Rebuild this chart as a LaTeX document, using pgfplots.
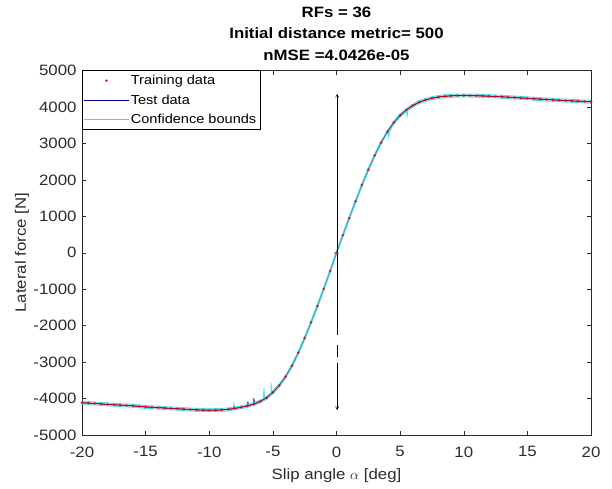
\documentclass[border=0pt]{standalone}
\usepackage{pgfplots}
\pgfplotsset{compat=1.18}
\usepackage{pgfplotstable}
\usepackage{fontspec}
\setmainfont{Liberation Sans}[FakeStretch=1.12]
\usetikzlibrary{arrows.meta}
\definecolor{mnavy}{rgb}{0.0,0.0,0.6}
\definecolor{mcyan}{rgb}{0.2,0.88,0.95}
\definecolor{axgray}{rgb}{0.17,0.17,0.17}

\pgfplotstableread{
x y
-20 -4115
-19.5 -4124
-19 -4135
-18.5 -4148
-18 -4160
-17.5 -4170
-17 -4180
-16.5 -4190
-16 -4200
-15.5 -4215
-15 -4230
-14.5 -4240
-14 -4250
-13.5 -4260
-13 -4270
-12.5 -4280
-12 -4290
-11.5 -4300
-11 -4310
-10.5 -4316
-10 -4320
-9.5 -4318
-9 -4310
-8.5 -4295
-8 -4272
-7.5 -4240
-7 -4200
-6.5 -4150
-6 -4080
-5.5 -3980
-5 -3830
-4.5 -3640
-4 -3400
-3.5 -3100
-3 -2740
-2.5 -2340
-2 -1910
-1.5 -1460
-1 -990
-0.5 -500
0 0
0.5 480
1 950
1.5 1410
2 1860
2.5 2280
3 2670
3.5 3020
4 3320
4.5 3570
5 3770
5.5 3920
6 4040
6.5 4130
7 4195
7.5 4240
8 4272
8.5 4292
9 4305
9.5 4312
10 4315
10.5 4313
11 4308
11.5 4302
12 4295
12.5 4287
13 4278
13.5 4268
14 4258
14.5 4248
15 4237
15.5 4226
16 4215
16.5 4204
17 4194
17.5 4184
18 4175
18.5 4166
19 4158
19.5 4150
20 4142
}\tbltraining

\pgfplotstableread{
x y
-20 -4115
-19 -4135
-18 -4160
-17 -4180
-16 -4200
-15 -4230
-14 -4250
-13 -4270
-12 -4290
-11 -4310
-10.5 -4316
-10 -4320
-9.5 -4318
-9 -4310
-8.5 -4295
-8.1 -4276
-8.05 -4225
-8.0 -4272
-7.5 -4240
-7 -4200
-6.98 -4198
-6.96 -4088
-6.93 -4196
-6.5 -4150
-6.49 -3995
-6.46 -4146
-6 -4080
-5.5 -3980
-5 -3830
-4.5 -3640
-4 -3400
-3.5 -3100
-3 -2740
-2.5 -2340
-2 -1910
-1.5 -1460
-1 -990
-0.5 -500
0 0
0.5 480
1 950
1.5 1410
2 1860
2.5 2280
3 2670
3.5 3020
4 3320
4.5 3570
5 3770
5.5 3920
6 4040
6.5 4130
7 4195
7.5 4240
8 4272
8.5 4292
9 4305
9.5 4312
10 4315
11 4308
12 4295
13 4278
14 4258
15 4237
16 4215
17 4194
18 4175
19 4158
20 4142
}\tbltest

\pgfplotstableread{
x y
-20 -4075
-19.5 -4084
-19 -4095
-18.5 -4108
-18 -4120
-17.5 -4130
-17 -4140
-16.5 -4150
-16 -4160
-15.5 -4175
-15 -4190
-14.5 -4200
-14 -4210
-13.5 -4220
-13 -4230
-12.5 -4240
-12 -4250
-11.5 -4260
-11 -4270
-10.5 -4276
-10 -4280
-9.5 -4278
-9 -4270
-8.5 -4255
-8.1 -4236
-8.05 -4150
-8.0 -4232
-7.5 -4200
-7 -4160
-6.5 -4110
-6 -4040
-5.75 -3995
-5.7 -3720
-5.65 -3975
-5.5 -3940
-5.15 -3840
-5.12 -3584
-5.09 -3825
-5 -3790
-4.5 -3600
-4 -3360
-3.5 -3060
-3 -2700
-2.5 -2300
-2 -1870
-1.5 -1420
-1 -950
-0.5 -460
0 40
0.5 520
1 990
1.5 1450
2 1900
2.5 2320
3 2710
3.5 3060
4 3360
4.5 3610
5 3810
5.5 3960
6 4080
6.5 4170
7 4235
7.5 4280
8 4312
8.5 4332
9 4345
9.5 4352
10 4355
10.5 4353
11 4348
11.5 4342
12 4335
12.5 4327
13 4318
13.5 4308
14 4298
14.5 4288
15 4277
15.5 4266
16 4255
16.5 4244
17 4234
17.5 4224
18 4215
18.5 4206
19 4198
19.5 4190
20 4182
}\tblupper

\pgfplotstableread{
x y
-20 -4155
-19.5 -4164
-19 -4175
-18.5 -4188
-18 -4200
-17.5 -4210
-17 -4220
-16.5 -4230
-16 -4240
-15.5 -4255
-15 -4270
-14.5 -4280
-14 -4290
-13.5 -4300
-13 -4310
-12.5 -4320
-12 -4330
-11.5 -4340
-11 -4350
-10.5 -4356
-10 -4360
-9.5 -4358
-9 -4350
-8.5 -4335
-8 -4312
-7.5 -4280
-7 -4240
-6.5 -4190
-6 -4120
-5.5 -4020
-5 -3870
-4.5 -3680
-4 -3440
-3.5 -3140
-3 -2780
-2.5 -2380
-2 -1950
-1.5 -1500
-1 -1030
-0.5 -540
0 -40
0.5 440
1 910
1.5 1370
2 1820
2.5 2240
3 2630
3.5 2980
4 3280
4.05 3300
4.1 3180
4.15 3320
4.5 3530
5 3730
5.5 3880
5.55 3760
5.6 3895
6 4000
6.5 4090
7 4155
7.5 4200
8 4232
8.5 4252
9 4265
9.5 4272
10 4275
10.5 4273
11 4268
11.5 4262
12 4255
12.5 4247
13 4238
13.5 4228
14 4218
14.5 4208
15 4197
15.5 4186
16 4175
16.5 4164
17 4154
17.5 4144
18 4135
18.5 4126
19 4118
19.5 4110
20 4102
}\tbllower

\begin{document}
\begin{tikzpicture}
\useasboundingbox (-82pt,-53pt) rectangle (530pt,435pt);
\begin{axis}[
  at={(0pt,0pt)}, anchor=south west,
  width=509pt, height=364.5pt, scale only axis,
  xmin=-20, xmax=20, ymin=-5000, ymax=5000,
  xtick={-20,-15,...,20},
  ytick={-5000,-4000,...,5000},
  scaled x ticks=false, scaled y ticks=false,
  /pgf/number format/assume math mode=true,
  /pgf/number format/1000 sep={},
  tick align=inside,
  major tick length=4.5pt,
  axis line style={draw=axgray, line width=0.5pt},
  every tick/.style={draw=axgray, line width=0.5pt},
  tick label style={font=\fontsize{15}{18}\selectfont, text=axgray},
  xticklabel style={yshift=-8pt},
  yticklabel style={xshift=-2pt},
  xlabel={Slip angle $\alpha$ [deg]},
  ylabel={Lateral force [N]},
  label style={font=\fontsize{15}{18}\selectfont, text=axgray},
  xlabel style={at={(axis description cs:0.5,-0.1125)}, anchor=center},
  ylabel style={at={(axis description cs:-0.118,0.5)}, anchor=center},
  legend style={at={(0,1)}, anchor=north west, draw=black,
    font=\fontsize{13}{15}\selectfont, inner xsep=2pt, inner ysep=2.5pt,
    row sep=4.5pt, cells={anchor=west}},
  legend image code/.code={\draw[mark repeat=2,mark phase=2,#1] plot coordinates {(0pt,0pt) (22pt,0pt) (44pt,0pt)};},
  clip=true,
]
\addplot[mnavy, line width=0.9pt, forget plot] table {\tbltest};
\addplot[red!90!black, line width=1.2pt, opacity=0.7, mark=*, mark size=0.7pt, forget plot] table {\tbltraining};
\addplot[mcyan, line width=1pt, opacity=0.85, forget plot] table {\tblupper};
\addplot[mcyan, line width=1pt, opacity=0.85, forget plot] table {\tbllower};
% black arrow at alpha = 0
\addplot[black, line width=0.5pt, {Straight Barb[length=3pt,width=3pt]}-, forget plot] coordinates {(0.05,4360) (0.05,-2260)};
\addplot[black, line width=0.5pt, forget plot] coordinates {(0.05,-2534) (0.05,-2855)};
\addplot[black, line width=0.5pt, -{Straight Barb[length=3pt,width=3pt]}, forget plot] coordinates {(0.05,-3036) (0.05,-4315)};
\addplot[only marks, mark=-, mark size=2.5pt, green!80!black, forget plot] coordinates {(0,0)};
\addlegendimage{only marks, mark=*, mark size=1pt, red}
\addlegendentry{Training data}
\addlegendimage{mnavy, line width=0.6pt}
\addlegendentry{Test data}
\addlegendimage{mcyan, line width=0.6pt}
\addlegendentry{Confidence bounds}
\end{axis}
\node[font=\fontsize{15}{18}\bfseries\selectfont, anchor=center] at (254.5pt,423pt) {RFs = 36};
\node[font=\fontsize{15}{18}\bfseries\selectfont, anchor=center] at (254.5pt,401.5pt) {Initial distance metric= 500};
\node[font=\fontsize{15}{18}\bfseries\selectfont, anchor=center] at (254.5pt,380pt) {nMSE =4.0426e-05};
\end{tikzpicture}
\end{document}
